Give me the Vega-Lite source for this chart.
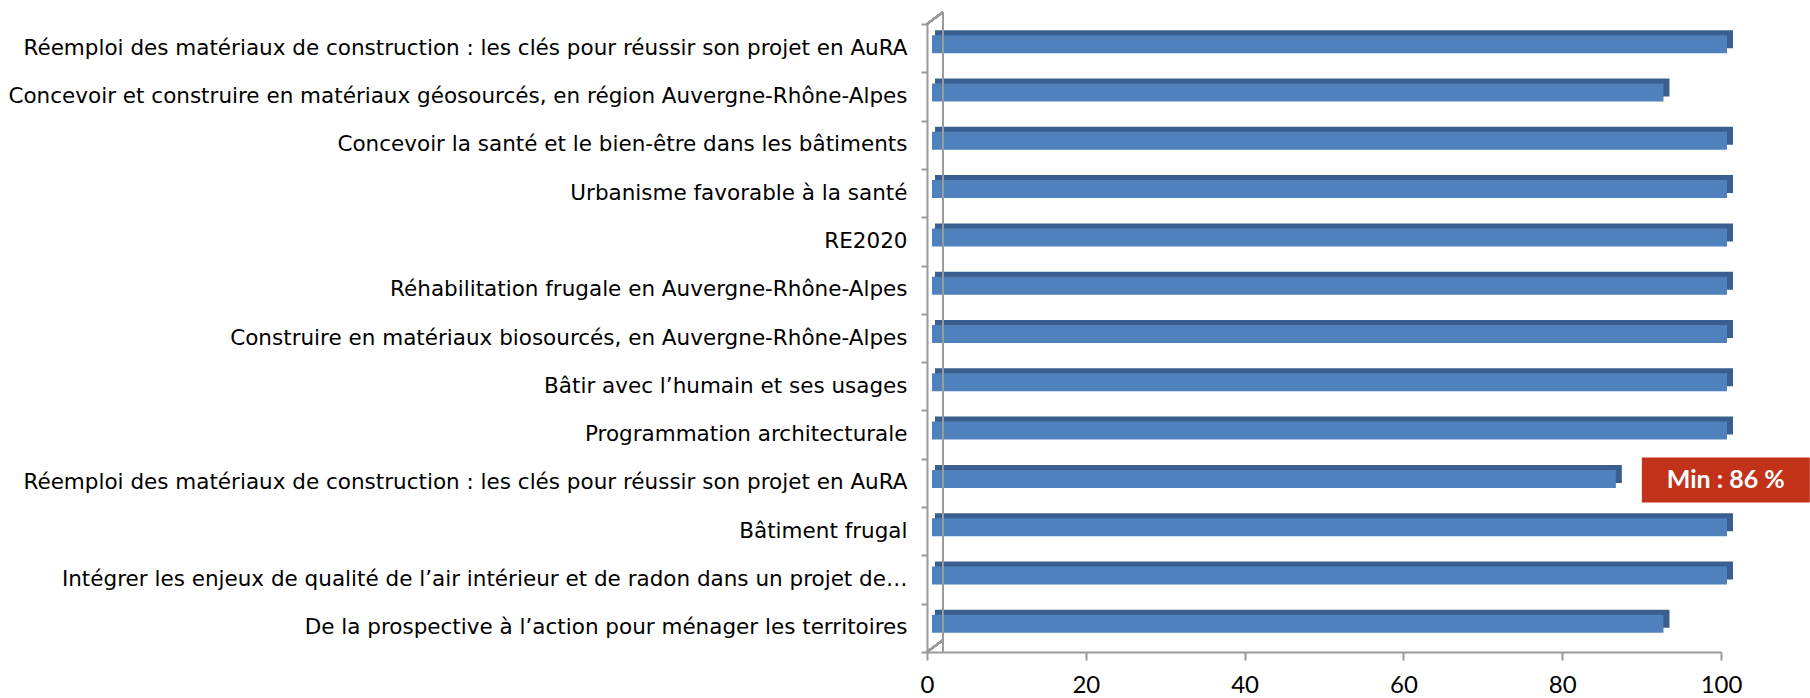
{
  "$schema": "https://vega.github.io/schema/vega-lite/v6.json",
  "width": 794,
  "height": 628,
  "autosize": {"type": "none"},
  "padding": {"left": 927, "top": 24, "right": 89, "bottom": 46},
  "background": "white",
  "config": {
    "view": {"stroke": null},
    "axis": {"domainColor": "#9a9a9a", "domainWidth": 2, "tickColor": "#9a9a9a", "tickWidth": 2, "grid": false, "labelColor": "#000000", "title": null}
  },
  "data": {
    "values": [
      {"session": "Réemploi des matériaux de construction : les clés pour réussir son projet en AuRA\u00a0", "value": 100},
      {"session": "Concevoir et construire en matériaux géosourcés, en région Auvergne-Rhône-Alpes", "value": 92},
      {"session": "Concevoir la santé et le bien-être dans les bâtiments", "value": 100},
      {"session": "Urbanisme favorable à la santé", "value": 100},
      {"session": "RE2020", "value": 100},
      {"session": "Réhabilitation frugale en Auvergne-Rhône-Alpes", "value": 100},
      {"session": "Construire en matériaux biosourcés, en Auvergne-Rhône-Alpes", "value": 100},
      {"session": "Bâtir avec l’humain et ses usages", "value": 100},
      {"session": "Programmation architecturale\u00a0", "value": 100},
      {"session": "Réemploi des matériaux de construction : les clés pour réussir son projet en AuRA\u00a0#2", "value": 86},
      {"session": "Bâtiment frugal", "value": 100},
      {"session": "Intégrer les enjeux de qualité de l’air intérieur et de radon dans un projet de…", "value": 100},
      {"session": "De la prospective à l’action pour ménager les territoires\u00a0", "value": 92}
    ]
  },
  "encoding": {
    "y": {
      "field": "session", "type": "nominal", "sort": null,
      "scale": {"paddingInner": 0, "paddingOuter": 0},
      "axis": {
        "orient": "left", "tickBand": "extent", "tickSize": 6, "labelPadding": 14,
        "labelFont": "DejaVu Sans", "labelFontSize": 21.5, "labelLimit": 1200,
        "labelExpr": "replace(datum.label, '#2', '')",
        "encode": {"labels": {"update": {"dx": {"signal": "indexof(datum.value, '…') >= 0 ? 16 : 0"}}}}
      }
    }
  },
  "layer": [
    {
      "mark": {"type": "bar", "color": "#3A5F8E", "height": 18, "yOffset": -9, "xOffset": 12, "x2Offset": 8},
      "encoding": {
        "x": {"field": "value", "type": "quantitative", "scale": {"domain": [0, 100], "nice": false},
          "axis": {"orient": "bottom", "values": [0, 20, 40, 60, 80, 100], "tickSize": 8, "labelPadding": 13, "labelFont": "Lato", "labelFontSize": 24, "labelFlush": false}},
        "x2": {"datum": 0}
      }
    },
    {
      "mark": {"type": "bar", "color": "#4F81BD", "height": 18, "yOffset": -4, "xOffset": 6, "x2Offset": 5},
      "encoding": {
        "x": {"field": "value", "type": "quantitative"},
        "x2": {"datum": 0}
      }
    },
    {
      "transform": [
        {"joinaggregate": [{"op": "min", "field": "value", "as": "minValue"}]},
        {"filter": "datum.value == datum.minValue"},
        {"calculate": "'Min : ' + datum.value + ' %'", "as": "label"}
      ],
      "layer": [
        {
          "mark": {"type": "bar", "color": "#C13219", "height": 45, "yOffset": -3, "xOffset": 32, "x2Offset": 200},
          "encoding": {"x": {"field": "value", "type": "quantitative"}, "x2": {"field": "value"}}
        },
        {
          "mark": {"type": "text", "color": "white", "font": "Lato", "fontWeight": "bold", "fontSize": 25, "dx": 116, "dy": -3, "align": "center", "baseline": "middle"},
          "encoding": {"x": {"field": "value", "type": "quantitative"}, "text": {"field": "label"}}
        }
      ]
    },
    {
      "mark": {"type": "rule", "color": "#9a9a9a", "strokeWidth": 2, "xOffset": 16, "yOffset": -12, "y2Offset": -12},
      "encoding": {"y": null, "x": {"datum": 0, "type": "quantitative"}}
    },
    {
      "mark": {"type": "rule", "color": "#9a9a9a", "strokeWidth": 2, "x2Offset": 16, "y2Offset": -12},
      "encoding": {
        "x": {"datum": 0, "type": "quantitative"},
        "x2": {"datum": 0},
        "y": {"datum": "Réemploi des matériaux de construction : les clés pour réussir son projet en AuRA\u00a0", "type": "nominal", "bandPosition": 0},
        "y2": {"datum": "Réemploi des matériaux de construction : les clés pour réussir son projet en AuRA\u00a0", "bandPosition": 0}
      }
    },
    {
      "mark": {"type": "rule", "color": "#9a9a9a", "strokeWidth": 2, "x2Offset": 16, "y2Offset": -12},
      "encoding": {
        "x": {"datum": 0, "type": "quantitative"},
        "x2": {"datum": 0},
        "y": {"datum": "De la prospective à l’action pour ménager les territoires\u00a0", "type": "nominal", "bandPosition": 1},
        "y2": {"datum": "De la prospective à l’action pour ménager les territoires\u00a0", "bandPosition": 1}
      }
    }
  ]
}
